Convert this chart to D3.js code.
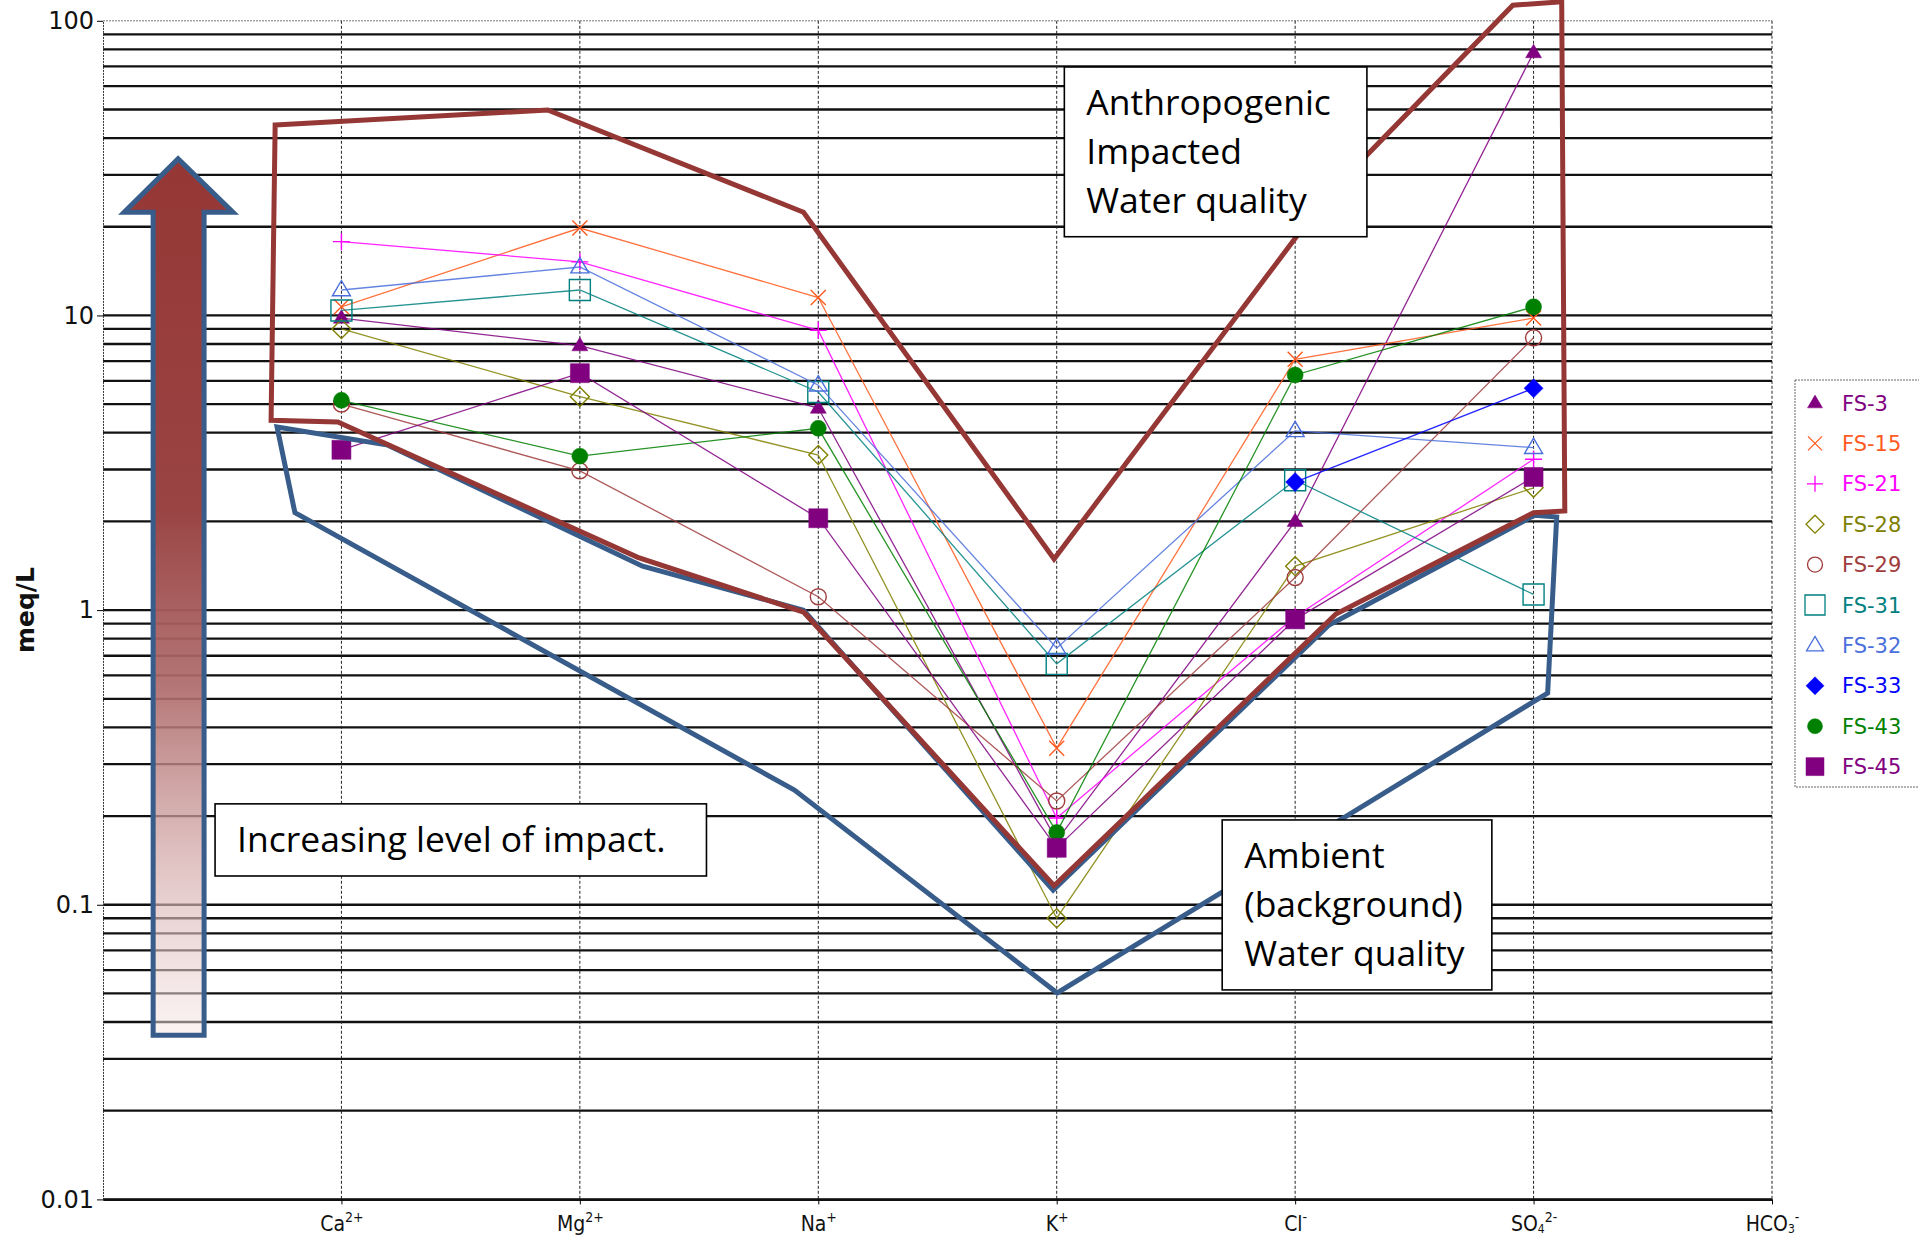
<!DOCTYPE html>
<html>
<head>
<meta charset="utf-8">
<script src="https://cdn.jsdelivr.net/npm/d3@7"></script>
<style>
  body { margin: 0; background: #fff; }
  svg { display: block; }
</style>
</head>
<body>
<svg id="chart"></svg>
<script>
// ---- data (meq/L) ----
// first slot on the x axis is left empty, like the original spreadsheet
const ions = ["", "Ca", "Mg", "Na", "K", "Cl", "SO4", "HCO3"];
const ionBase = ["Ca", "Mg", "Na", "K", "Cl", "SO", "HCO"];
const ionSub  = ["", "", "", "", "", "4", "3"];
const ionSup  = ["2+", "2+", "+", "+", "-", "2-", "-"];

const yTickVals = [0.01, 0.1, 1, 10, 100];
const yTickLabels = ["0.01", "0.1", "1", "10", "100"];

const seriesNames = ["FS-3", "FS-15", "FS-21", "FS-28", "FS-29", "FS-31", "FS-32", "FS-33", "FS-43", "FS-45"];
//            Ca     Mg     Na     K      Cl    SO4   HCO3
const fs3  = [9.8,   7.9,   4.85,  0.165, 2.0,  78,   null];
const fs15 = [10.7,  19.8,  11.5,  0.34,  7.1,  9.8,  null];
const fs21 = [17.8,  15.2,  8.9,   0.197, 0.95, 3.25, null];
const fs28 = [9.0,   5.3,   3.36,  0.09,  1.41, 2.6,  null];
const fs29 = [5.0,   2.97,  1.11,  0.225, 1.29, 8.4,  null];
const fs31 = [10.4,  12.2,  5.5,   0.657, 2.76, 1.13, null];
const fs32 = [12.2,  14.6,  5.8,   0.743, 4.06, 3.56, null];
const fs33 = [null,  null,  null,  null,  2.72, 5.66, null];
const fs43 = [5.15,  3.33,  4.14,  0.176, 6.28, 10.7, null];
const fs45 = [3.5,   6.37,  2.05,  0.156, 0.93, 2.83, null];
const seriesValues = [fs3, fs15, fs21, fs28, fs29, fs31, fs32, fs33, fs43, fs45];

// annotation outlines, as [x slot index, meq/L]
const impactedZone = [[0.722, 44.3], [1.865, 49.8], [2.938, 22.4], [3.989, 1.49], [5.133, 25.4],
  [5.913, 113], [6.118, 116], [6.131, 2.17], [6.0, 2.14], [5.171, 0.97], [3.989, 0.116],
  [2.938, 0.985], [2.243, 1.51], [0.985, 4.35], [0.705, 4.41]];
const ambientZone = [[0.730, 4.18], [1.195, 3.63], [2.263, 1.41], [2.938, 1.0], [3.985, 0.112],
  [5.142, 0.89], [6.005, 2.10], [6.097, 2.07], [6.059, 0.523], [4.002, 0.0502],
  [2.900, 0.245], [0.805, 2.14]];
const impactArrow = [[0.315, 34.0], [0.545, 22.4], [0.424, 22.4], [0.424, 0.0361],
  [0.2103, 0.0361], [0.2103, 22.4], [0.0888, 22.4]];

const notes = [
  { box: [[4.032, 69.7], [5.301, 18.5]], lines: ["Anthropogenic", "Impacted", "Water quality"] },
  { box: [[0.470, 0.220], [2.531, 0.1252]], lines: ["Increasing level of impact."] },
  { box: [[4.694, 0.194], [5.825, 0.0514]], lines: ["Ambient", "(background)", "Water quality"] }
];

// ---- styles ----
const seriesColor  = ["#800080", "#ff5a1f", "#ff00ff", "#808000", "#a03c3c", "#008080", "#4a6fdc", "#0000ff", "#008000", "#800080"];
const seriesMarker = ["triangle", "x", "plus", "diamond", "circle", "square", "triangle", "diamond", "circle", "square"];
const seriesFilled = [true, false, false, false, false, false, false, true, true, true];
const seriesSize   = [16, 15, 17, 19, 16, 21, 18, 19, 16, 19];

const W = 1919, H = 1242;
const x0 = 103, x1 = 1772, yTop = 20.8, yBot = 1199.4;

const svg = d3.select("#chart").attr("width", W).attr("height", H)
  .style("font-family", "'DejaVu Sans', Verdana, sans-serif");

const x = d3.scalePoint().domain(ions).range([x0, x1]);
const xi = d3.scaleLinear().domain([0, ions.length - 1]).range([x0, x1]);
const y = d3.scaleLog().domain([0.01, 100]).range([yBot, yTop]);

function markerPath(type, s) {
  const h = s / 2;
  switch (type) {
    case "triangle": { const t = s * 0.85; return `M0,${-t * 0.62}L${h},${t * 0.38}L${-h},${t * 0.38}Z`; }
    case "square": return `M${-h},${-h}H${h}V${h}H${-h}Z`;
    case "diamond": return `M0,${-h}L${h},0L0,${h}L${-h},0Z`;
    case "circle": return d3.symbol(d3.symbolCircle, Math.PI * h * h)();
    case "x": return `M${-h},${-h}L${h},${h}M${h},${-h}L${-h},${h}`;
    case "plus": return `M${-h},0H${h}M0,${-h}V${h}`;
  }
}

// ---- grid ----
const grid = svg.append("g");
grid.selectAll(".hgrid")
  .data(y.ticks().filter(v => v < 100))
  .enter().append("line")
  .attr("x1", x0).attr("x2", x1)
  .attr("y1", d => y(d)).attr("y2", d => y(d))
  .attr("stroke", "#111").attr("stroke-width", 2.3);

grid.append("line")
  .attr("x1", x0).attr("x2", x1).attr("y1", y(100)).attr("y2", y(100))
  .attr("stroke", "#777").attr("stroke-width", 1).attr("stroke-dasharray", "2,1");

grid.selectAll(".vgrid")
  .data(ions.slice(1))
  .enter().append("line")
  .attr("x1", d => x(d)).attr("x2", d => x(d))
  .attr("y1", yTop).attr("y2", yBot)
  .attr("stroke", "#222").attr("stroke-width", 1).attr("stroke-dasharray", "3,2");

// ---- axes ----
const yAxis = svg.append("g")
  .attr("transform", `translate(${x0},0)`)
  .call(d3.axisLeft(y).tickValues(yTickVals).tickFormat((d, i) => yTickLabels[i])
    .tickSize(6).tickSizeOuter(0).tickPadding(3));
yAxis.select(".domain").attr("stroke", "#333").attr("stroke-dasharray", "2,1");
yAxis.selectAll("text").attr("font-size", 24).attr("fill", "#111")
  .attr("font-family", "'DejaVu Sans', Verdana, sans-serif");

const xAxis = svg.append("g")
  .attr("transform", `translate(0,${yBot})`)
  .call(d3.axisBottom(x).tickValues(ions.slice(1)).tickSize(5).tickSizeOuter(0));
xAxis.select(".domain").attr("stroke", "#111").attr("stroke-width", 2.3);
xAxis.selectAll(".tick text").each(function (d, i) {
  const t = d3.select(this).text(null)
    .attr("y", 32).attr("dy", 0)
    .attr("font-size", 21).attr("fill", "#111")
    .attr("font-family", "'DejaVu Sans Condensed', 'DejaVu Sans', sans-serif");
  t.append("tspan").text(ionBase[i]);
  if (ionSub[i]) t.append("tspan").attr("font-size", 12).attr("dy", 2).text(ionSub[i]);
  t.append("tspan").attr("font-size", 14).attr("dy", ionSub[i] ? -11 : -9).text(ionSup[i]);
});

svg.append("text")
  .attr("transform", `translate(34,${(yTop + yBot) / 2}) rotate(-90)`)
  .attr("text-anchor", "middle")
  .attr("font-size", 25).attr("font-weight", "bold").attr("fill", "#111")
  .text("meq/L");

// ---- series ----
const line = d3.line()
  .defined(d => d.v != null)
  .x(d => x(d.ion))
  .y(d => y(d.v));

seriesNames.forEach((name, s) => {
  const pts = ions.slice(1).map((ion, i) => ({ ion: ion, v: seriesValues[s][i] }));
  const g = svg.append("g").attr("class", "series");
  g.append("path")
    .datum(pts.filter(p => p.v != null))
    .attr("fill", "none")
    .attr("stroke", seriesColor[s])
    .attr("stroke-width", 1.3)
    .attr("stroke-opacity", 0.85)
    .attr("d", line);
  g.selectAll("path.mk")
    .data(pts.filter(p => p.v != null))
    .enter().append("path")
    .attr("class", "mk")
    .attr("transform", d => `translate(${x(d.ion)},${y(d.v)})`)
    .attr("d", markerPath(seriesMarker[s], seriesSize[s]))
    .attr("fill", seriesFilled[s] ? seriesColor[s] : "none")
    .attr("stroke", seriesColor[s])
    .attr("stroke-width", seriesFilled[s] ? 0.5 : 1.4);
});

// ---- annotations ----
const outline = d3.line().x(d => xi(d[0])).y(d => y(d[1])).curve(d3.curveLinearClosed);

svg.append("path").datum(ambientZone)
  .attr("d", outline).attr("fill", "none")
  .attr("stroke", "#385d8a").attr("stroke-width", 5).attr("stroke-linejoin", "miter");
svg.append("path").datum(impactedZone)
  .attr("d", outline).attr("fill", "none")
  .attr("stroke", "#953735").attr("stroke-width", 5).attr("stroke-linejoin", "miter");

const grad = svg.append("defs").append("linearGradient")
  .attr("id", "arrowFill").attr("gradientUnits", "userSpaceOnUse")
  .attr("x1", 0).attr("x2", 0)
  .attr("y1", y(34)).attr("y2", y(0.0361));
[[0, "#953735", 1], [0.4, "#9a4444", 1], [0.6, "#ad6969", 0.92], [0.8, "#d3a8a8", 0.7], [1, "#f6e6e6", 0.5]]
  .forEach(s => grad.append("stop").attr("offset", s[0]).attr("stop-color", s[1]).attr("stop-opacity", s[2]));

svg.append("path").datum(impactArrow)
  .attr("d", outline)
  .attr("fill", "url(#arrowFill)")
  .attr("stroke", "#385d8a").attr("stroke-width", 5).attr("stroke-linejoin", "miter");

notes.forEach(n => {
  const bx = xi(n.box[0][0]), by = y(n.box[0][1]);
  const bw = xi(n.box[1][0]) - bx, bh = y(n.box[1][1]) - by;
  const g = svg.append("g").attr("transform", `translate(${bx},${by})`);
  g.append("rect").attr("width", bw).attr("height", bh)
    .attr("fill", "#fff").attr("stroke", "#000").attr("stroke-width", 1.6);
  g.selectAll("text").data(n.lines).enter().append("text")
    .attr("x", 22).attr("y", (d, i) => 48 + i * 49)
    .attr("font-family", "'Open Sans', 'Noto Sans', sans-serif")
    .attr("font-size", 35.5).attr("fill", "#000")
    .text(d => d);
});

// ---- legend ----
const legend = svg.append("g").attr("transform", "translate(1795,380)");
legend.append("rect").attr("width", 140).attr("height", 407)
  .attr("fill", "#fff").attr("stroke", "#666").attr("stroke-width", 1).attr("stroke-dasharray", "2,1");
seriesNames.forEach((name, s) => {
  const row = legend.append("g").attr("transform", `translate(0,${23 + s * 40.4})`);
  row.append("path")
    .attr("transform", "translate(20,0)")
    .attr("d", markerPath(seriesMarker[s], seriesSize[s] - 1))
    .attr("fill", seriesFilled[s] ? seriesColor[s] : "none")
    .attr("stroke", seriesColor[s])
    .attr("stroke-width", seriesFilled[s] ? 0.5 : 1.3);
  row.append("text").attr("x", 47).attr("dy", "0.36em")
    .attr("font-size", 21).attr("fill", seriesColor[s])
    .text(name);
});
</script>
</body>
</html>
